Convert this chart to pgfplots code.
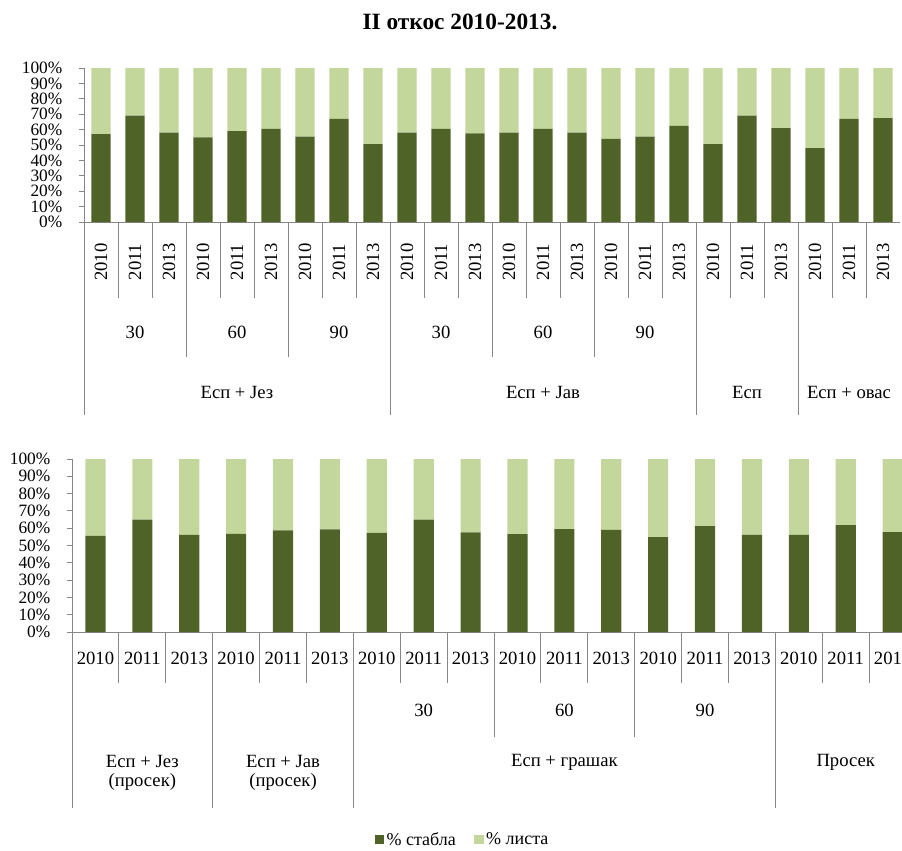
\documentclass[border=0pt]{standalone}
\usepackage{fontspec}
\setmainfont{Liberation Serif}
\usepackage{pgfplots}
\usepackage{pgfplotstable}
\pgfplotsset{compat=1.18}
\definecolor{dk}{RGB}{79,98,40}
\definecolor{lt}{RGB}{195,214,155}
\definecolor{ax}{RGB}{134,134,134}

\pgfplotstableread{
x s l
0 57 43
1 69 31
2 58 42
3 55 45
4 59 41
5 60.5 39.5
6 55.5 44.5
7 67 33
8 50.5 49.5
9 58 42
10 60.5 39.5
11 57.5 42.5
12 58 42
13 60.5 39.5
14 58 42
15 54 46
16 55.5 44.5
17 62.5 37.5
18 50.5 49.5
19 69 31
20 61 39
21 48 52
22 67 33
23 67.5 32.5
}\topdata

\pgfplotstableread{
x s l
0 55.6 44.4
1 65 35
2 56.2 43.8
3 56.7 43.3
4 58.7 41.3
5 59.3 40.7
6 57.3 42.7
7 65 35
8 57.6 42.4
9 56.6 43.4
10 59.5 40.5
11 59.1 40.9
12 54.8 45.2
13 61.2 38.8
14 56.2 43.8
15 56.2 43.8
16 61.8 38.2
17 57.7 42.3
}\botdata

\pgfplotsset{
  mybar/.style={
    ybar stacked, ymin=0, ymax=100,
    xmin=-0.5, enlarge x limits=false,
    scale only axis, clip=false,
    axis x line*=bottom, axis y line*=left,
    axis line style={ax, line width=0.75pt},
    ytick={0,10,...,100},
    yticklabels={0\%,10\%,20\%,30\%,40\%,50\%,60\%,70\%,80\%,90\%,100\%},
    yticklabel style={font=\fontsize{13}{13}\selectfont, xshift=-9pt},
    tick align=outside, major tick length=3.75pt,
    y tick style={ax, line width=0.75pt},
    xtick=\empty,
    anchor=south west,
  },
}
\tikzset{
  sep/.style={ax, line width=0.75pt},
  lab/.style={font=\fontsize{14}{16}\selectfont, align=center, inner sep=0pt},
}

\begin{document}
\begin{tikzpicture}
\useasboundingbox (0,0) rectangle (676.5pt,-637.5pt);
\node[font=\bfseries\fontsize{17.5}{20}\selectfont] at (345pt,-16.5pt) {II откос 2010-2013.};

% ---------------- top panel ----------------
\begin{axis}[mybar, at={(63pt,-166.5pt)}, width=612pt, height=115.5pt,
  xmax=23.5, bar width=0.56]
\addplot[fill=dk, draw=none] table[x=x, y=s]{\topdata};
\addplot[fill=lt, draw=none] table[x=x, y=l]{\topdata};
% separators
\pgfplotsinvokeforeach{0.5,1.5,2.5,3.5,4.5,5.5,6.5,7.5,8.5,9.5,10.5,11.5,12.5,13.5,14.5,15.5,16.5,17.5,18.5,19.5,20.5,21.5,22.5}{
  \draw[sep] (axis cs:#1,0) -- ([yshift=-57pt]axis cs:#1,0);}
\pgfplotsinvokeforeach{2.5,5.5,11.5,14.5}{
  \draw[sep] (axis cs:#1,0) -- ([yshift=-101.25pt]axis cs:#1,0);}
\pgfplotsinvokeforeach{-0.5,8.5,17.5,20.5}{
  \draw[sep] (axis cs:#1,0) -- ([yshift=-144.75pt]axis cs:#1,0);}
% year labels
\pgfplotsinvokeforeach{0,3,6,9,12,15,18,21}{
  \node[lab, rotate=90] at ([yshift=-30pt]axis cs:#1,0) {2010};}
\pgfplotsinvokeforeach{1,4,7,10,13,16,19,22}{
  \node[lab, rotate=90] at ([yshift=-30pt]axis cs:#1,0) {2011};}
\pgfplotsinvokeforeach{2,5,8,11,14,17,20,23}{
  \node[lab, rotate=90] at ([yshift=-30pt]axis cs:#1,0) {2013};}
% level 2
\node[lab] at ([yshift=-82.5pt]axis cs:1,0) {30};
\node[lab] at ([yshift=-82.5pt]axis cs:4,0) {60};
\node[lab] at ([yshift=-82.5pt]axis cs:7,0) {90};
\node[lab] at ([yshift=-82.5pt]axis cs:10,0) {30};
\node[lab] at ([yshift=-82.5pt]axis cs:13,0) {60};
\node[lab] at ([yshift=-82.5pt]axis cs:16,0) {90};
% level 3
\node[lab] at ([yshift=-127.5pt]axis cs:4,0) {Есп + Јез};
\node[lab] at ([yshift=-127.5pt]axis cs:13,0) {Есп + Јав};
\node[lab] at ([yshift=-127.5pt]axis cs:19,0) {Есп};
\node[lab] at ([yshift=-127.5pt]axis cs:22,0) {Есп + овас};
\end{axis}

% ---------------- bottom panel ----------------
\begin{axis}[mybar, at={(54pt,-474pt)}, width=622.5pt, height=129.75pt,
  xmax=17.2, bar width=0.43,
  legend columns=2,
  legend style={draw=none, fill=none, at={(0.471,-1.202)}, anchor=center,
    font=\fontsize{13.5}{14}\selectfont,
    /tikz/every even column/.append style={column sep=12pt}},
  ]
\addplot[fill=dk, draw=none,
  legend image code/.code={\fill[dk] (0pt,-3.4pt) rectangle (6.8pt,3.4pt);}]
  table[x=x, y=s]{\botdata};
\addlegendentry{\% стабла}
\addplot[fill=lt, draw=none,
  legend image code/.code={\fill[lt] (0pt,-3.4pt) rectangle (6.8pt,3.4pt);}]
  table[x=x, y=l]{\botdata};
\addlegendentry{\% листа}
% separators
\pgfplotsinvokeforeach{0.5,1.5,2.5,3.5,4.5,5.5,6.5,7.5,8.5,9.5,10.5,11.5,12.5,13.5,14.5,15.5,16.5}{
  \draw[sep] (axis cs:#1,0) -- ([yshift=-38.25pt]axis cs:#1,0);}
\pgfplotsinvokeforeach{8.5,11.5}{
  \draw[sep] (axis cs:#1,0) -- ([yshift=-78.75pt]axis cs:#1,0);}
\pgfplotsinvokeforeach{-0.5,2.5,5.5,14.5}{
  \draw[sep] (axis cs:#1,0) -- ([yshift=-132pt]axis cs:#1,0);}
% year labels
\pgfplotsinvokeforeach{0,3,6,9,12,15}{
  \node[lab] at ([yshift=-19.5pt]axis cs:#1,0) {2010};}
\pgfplotsinvokeforeach{1,4,7,10,13,16}{
  \node[lab] at ([yshift=-19.5pt]axis cs:#1,0) {2011};}
\pgfplotsinvokeforeach{2,5,8,11,14,17}{
  \node[lab] at ([yshift=-19.5pt]axis cs:#1,0) {2013};}
% level 2
\node[lab] at ([yshift=-58.5pt]axis cs:7,0) {30};
\node[lab] at ([yshift=-58.5pt]axis cs:10,0) {60};
\node[lab] at ([yshift=-58.5pt]axis cs:13,0) {90};
% level 3
\node[lab, font=\fontsize{14}{14.5}\selectfont] at ([yshift=-105.75pt]axis cs:1,0) {Есп + Јез\\(просек)};
\node[lab, font=\fontsize{14}{14.5}\selectfont] at ([yshift=-105.75pt]axis cs:4,0) {Есп + Јав\\(просек)};
\node[lab] at ([yshift=-97.5pt]axis cs:10,0) {Есп + грашак};
\node[lab] at ([yshift=-97.5pt]axis cs:16,0) {Просек};
\end{axis}
\end{tikzpicture}
\end{document}
